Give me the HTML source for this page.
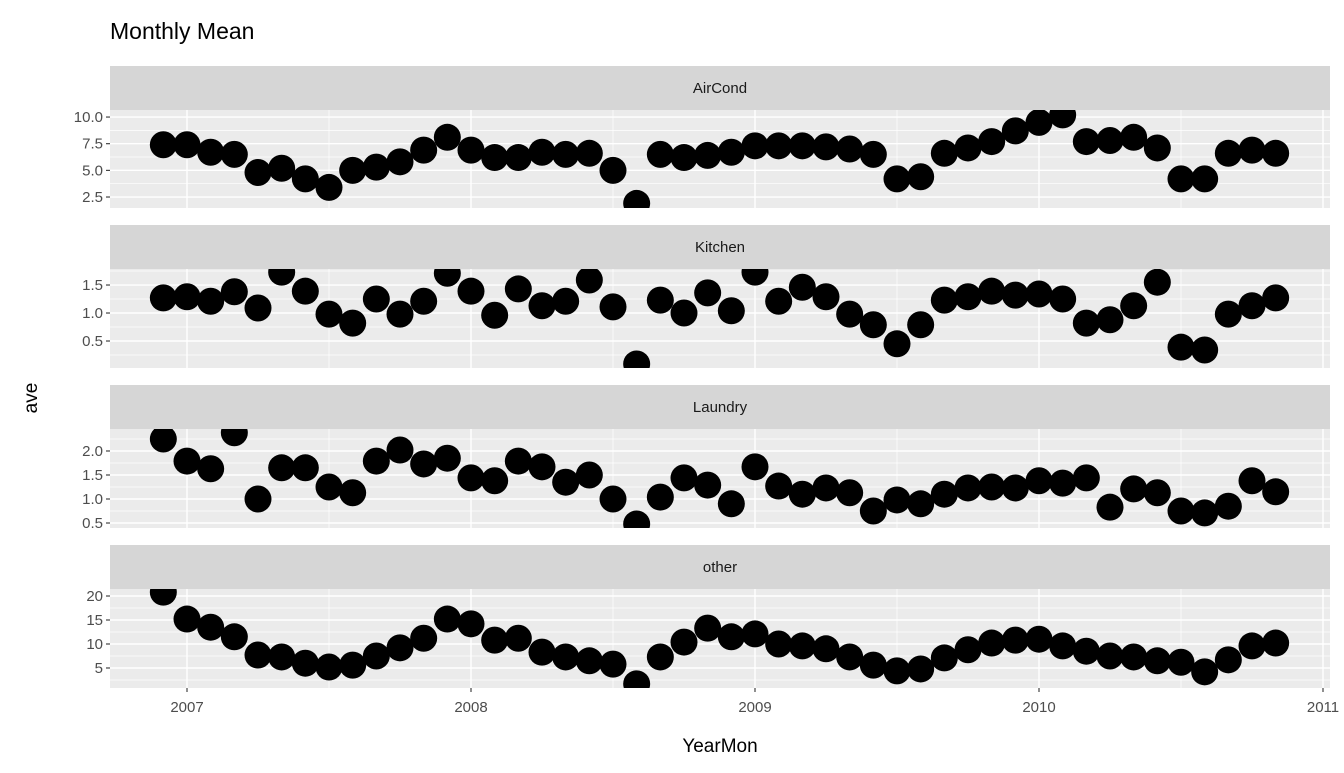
<!DOCTYPE html>
<html><head><meta charset="utf-8"><style>
html,body{margin:0;padding:0;background:#fff;}
svg text{font-family:"Liberation Sans",Arial,sans-serif;}
</style></head><body>
<svg id="chart" width="1344" height="768" viewBox="0 0 1344 768" xmlns="http://www.w3.org/2000/svg">
<text x="110" y="39" font-size="23" fill="#000">Monthly Mean</text>
<text transform="translate(37,398) rotate(-90)" text-anchor="middle" font-size="19" fill="#000">ave</text>
<text x="720" y="752" text-anchor="middle" font-size="19" fill="#000">YearMon</text>
</svg>
<script>
const categories = ["AirCond","Kitchen","Laundry","other"];
const startYear = 2006 + 11/12; // Dec 2006
const xTicks = [2007,2008,2009,2010,2011];
const airCond = [7.4,7.4,6.7,6.5,4.8,5.2,4.2,3.4,5.0,5.3,5.8,6.9,8.1,6.9,6.2,6.2,6.7,6.5,6.6,5.0,1.9,6.5,6.2,6.4,6.7,7.3,7.3,7.3,7.2,7.0,6.5,4.2,4.4,6.6,7.1,7.7,8.7,9.5,10.2,7.7,7.8,8.1,7.1,4.2,4.2,6.6,6.9,6.6];
const kitchen = [1.27,1.29,1.21,1.38,1.09,1.73,1.39,0.98,0.82,1.25,0.98,1.21,1.71,1.39,0.96,1.43,1.13,1.21,1.59,1.11,0.09,1.23,1.0,1.36,1.04,1.73,1.21,1.46,1.29,0.98,0.79,0.45,0.79,1.23,1.29,1.39,1.32,1.34,1.25,0.82,0.88,1.13,1.55,0.39,0.34,0.98,1.13,1.27];
const laundry = [2.25,1.79,1.63,2.38,1.0,1.65,1.65,1.25,1.13,1.79,2.02,1.73,1.85,1.44,1.38,1.79,1.67,1.35,1.5,1.0,0.48,1.04,1.44,1.29,0.9,1.67,1.27,1.1,1.23,1.13,0.75,0.98,0.9,1.1,1.23,1.25,1.23,1.38,1.33,1.44,0.83,1.21,1.13,0.75,0.71,0.85,1.38,1.15];
const other = [20.8,15.2,13.5,11.5,7.7,7.3,6.0,5.2,5.6,7.5,9.2,11.2,15.2,14.2,10.8,11.2,8.3,7.3,6.5,5.8,1.7,7.3,10.4,13.3,11.5,12.1,10.0,9.6,9.0,7.3,5.6,4.4,4.8,7.1,8.8,10.2,10.8,11.0,9.6,8.5,7.5,7.3,6.5,6.2,4.2,6.7,9.6,10.2];
const yTicks1 = [2.5,5.0,7.5,10.0], yLabels1 = ["2.5","5.0","7.5","10.0"];
const yTicks2 = [0.5,1.0,1.5], yLabels2 = ["0.5","1.0","1.5"];
const yTicks3 = [0.5,1.0,1.5,2.0], yLabels3 = ["0.5","1.0","1.5","2.0"];
const yTicks4 = [5,10,15,20], yLabels4 = ["5","10","15","20"];

const NS="http://www.w3.org/2000/svg";
const svg=document.getElementById('chart');
function mk(t,a,p){const e=document.createElementNS(NS,t);for(const k in a)e.setAttribute(k,a[k]);(p||svg).appendChild(e);return e;}
const px0=110, px1=1330;
const xScale=v=>187+(v-2007)*284;
const panels=[
 {name:categories[0],data:airCond,ticks:yTicks1,labels:yLabels1,top:110,bot:208,ymin:1.47,ymax:10.66},
 {name:categories[1],data:kitchen,ticks:yTicks2,labels:yLabels2,top:269,bot:368,ymin:0.018,ymax:1.786},
 {name:categories[2],data:laundry,ticks:yTicks3,labels:yLabels3,top:429,bot:528,ymin:0.396,ymax:2.458},
 {name:categories[3],data:other,ticks:yTicks4,labels:yLabels4,top:589,bot:688,ymin:0.83,ymax:21.46}
];
panels.forEach((p,i)=>{
 const ys=v=>p.bot-(v-p.ymin)/(p.ymax-p.ymin)*(p.bot-p.top);
 const g=mk('g',{});
 
 
 const strip=mk('rect',{x:px0,y:p.top-44,width:px1-px0,height:44,fill:'#d6d6d6'},g);
 
 
 const st=mk('text',{x:(px0+px1)/2,y:p.top-17,'text-anchor':'middle','font-size':'15',fill:'#1a1a1a'},g);
 st.textContent=p.name;
 
 
 const bg=mk('rect',{x:px0,y:p.top,width:px1-px0,height:p.bot-p.top,fill:'#ebebeb'},g);
 
 
 const step=p.ticks[1]-p.ticks[0];
 for(let k=0;k<=p.ticks.length;k++){const v=p.ticks[0]-step/2+k*step;const y=ys(v);if(y>p.top&&y<p.bot)mk('line',{x1:px0,x2:px1,y1:y,y2:y,stroke:'#fff','stroke-width':0.7},g);}
 for(let k=0;k<xTicks.length;k++){const x=xScale(xTicks[k]-0.5);if(x>px0&&x<px1)mk('line',{x1:x,x2:x,y1:p.top,y2:p.bot,stroke:'#fff','stroke-width':0.7},g);}
 p.ticks.forEach((v,k)=>{const y=ys(v);mk('line',{x1:px0,x2:px1,y1:y,y2:y,stroke:'#fff','stroke-width':1.4},g);
  mk('line',{x1:px0-4,x2:px0,y1:y,y2:y,stroke:'#333','stroke-width':1.1},g);
  const t=mk('text',{x:px0-7,y:y+5,'text-anchor':'end','font-size':'15',fill:'#4d4d4d'},g);t.textContent=p.labels[k];
  
  });
 xTicks.forEach(v=>{const x=xScale(v);mk('line',{x1:x,x2:x,y1:p.top,y2:p.bot,stroke:'#fff','stroke-width':1.4},g);});
 const cpEl=mk('clipPath',{id:'clip'+i},g);
 mk('rect',{x:px0,y:p.top,width:px1-px0,height:p.bot-p.top},cpEl);
 const pg=mk('g',{'clip-path':'url(#clip'+i+')'},g);
 p.data.forEach((v,j)=>{const c=mk('circle',{cx:xScale(startYear+j/12),cy:ys(v),r:13.5,fill:'#000'},pg);
  
  });
});
xTicks.forEach(v=>{const x=xScale(v);mk('line',{x1:x,x2:x,y1:688,y2:692,stroke:'#333','stroke-width':1.1});
 const t=mk('text',{x:x,y:712,'text-anchor':'middle','font-size':'15',fill:'#4d4d4d'});t.textContent=String(v);
 
 });
</script>
</body></html>
